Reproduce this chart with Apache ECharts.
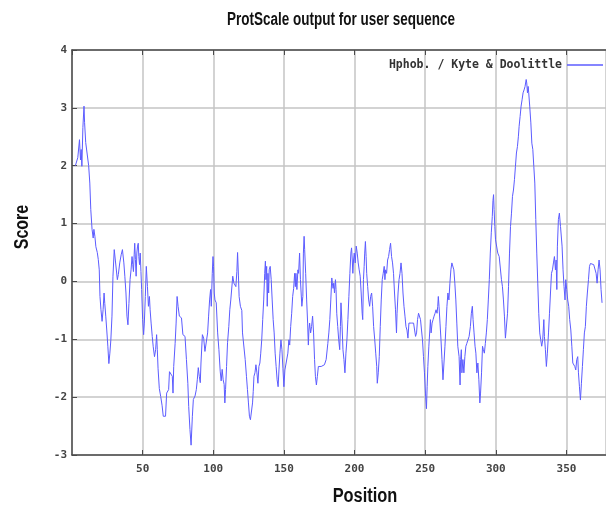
<!DOCTYPE html>
<html>
<head>
<meta charset="utf-8">
<script src="https://cdn.jsdelivr.net/npm/echarts@6/dist/echarts.min.js"></script>
<style>
  html, body { margin: 0; padding: 0; background: #fff; }
  #chart { width: 606px; height: 509px; }
</style>
</head>
<body>
<div id="chart"></div>
<script>
// Kyte & Doolittle hydrophobicity
const positions = [
  2.4, 3.4, 4.1, 5.3, 6.0, 6.5, 7.0, 7.7, 8.5, 8.9, 9.7, 10.9, 11.8, 12.6, 13.3, 14.2, 15.0, 15.5, 16.2, 16.9,
  17.9, 18.6, 19.3, 19.8, 20.5, 21.3, 22.0, 22.7, 23.2, 23.9, 24.6, 25.4, 26.1, 26.8, 27.5, 28.3, 29.0, 29.9, 31.2, 32.1,
  32.8, 33.8, 34.8, 35.7, 36.7, 37.4, 38.2, 38.9, 39.6, 40.3, 41.1, 41.8, 42.5, 43.0, 43.5, 44.0, 44.4, 44.9, 45.4, 45.9,
  46.4, 46.9, 47.3, 47.8, 48.3, 48.8, 49.3, 50.0, 50.7, 51.2, 51.9, 52.6, 53.4, 54.1, 54.8, 55.3, 56.0, 56.8, 57.5, 58.4,
  59.2, 59.9, 60.4, 60.9, 61.8, 62.8, 63.8, 64.6, 66.2, 67.0, 68.4, 69.0, 70.3, 71.0, 71.5, 72.0, 73.0, 73.7, 74.4, 75.1,
  76.0, 77.5, 78.5, 80.0, 81.0, 82.0, 82.6, 83.5, 84.3, 85.2, 85.9, 87.1, 88.0, 88.7, 89.4, 90.1, 90.8, 91.3, 92.3, 93.2,
  94.1, 95.1, 96.0, 96.7, 97.4, 98.1, 98.6, 99.3, 99.8, 100.2, 100.7, 101.2, 102.1, 103.1, 104.0, 104.9, 105.6, 106.3, 107.0, 107.7,
  108.2, 108.7, 109.4, 110.1, 111.0, 111.7, 112.4, 113.1, 113.8, 114.6, 115.3, 116.0, 116.7, 117.2, 117.8, 118.3, 119.2, 120.2, 120.7, 121.6,
  122.6, 123.5, 124.2, 124.9, 125.6, 126.3, 127.3, 127.8, 128.3, 128.8, 129.5, 130.2, 130.9, 131.6, 132.3, 133.0, 133.6, 134.3, 135.0, 135.7,
  136.4, 136.9, 137.3, 137.8, 138.2, 138.7, 139.2, 139.6, 140.3, 141.0, 141.7, 142.4, 143.1, 143.8, 144.5, 145.2, 145.9, 146.5, 147.2, 147.9,
  148.6, 149.3, 150.0, 150.7, 151.4, 152.1, 152.8, 153.5, 154.1, 154.8, 155.5, 156.2, 156.9, 157.6, 158.1, 158.5, 159.2, 159.9, 160.4, 161.1,
  161.7, 162.2, 162.7, 163.4, 163.8, 164.3, 164.7, 165.4, 166.1, 166.8, 167.3, 167.7, 168.2, 168.9, 169.6, 170.3, 171.0, 171.7, 172.3, 173.0,
  173.7, 174.4, 175.1, 176.4, 177.6, 178.7, 179.9, 181.1, 181.8, 182.5, 183.2, 183.9, 184.3, 184.8, 185.3, 185.8, 186.5, 186.9, 187.4, 188.1,
  188.8, 189.5, 190.0, 190.4, 191.1, 191.8, 192.5, 193.2, 193.9, 194.6, 195.3, 196.0, 196.7, 197.4, 197.9, 198.4, 198.8, 199.3, 199.8, 200.5,
  201.2, 201.9, 202.6, 203.3, 204.0, 204.7, 205.4, 205.8, 206.3, 206.8, 207.2, 207.7, 208.2, 208.6, 209.3, 210.0, 210.7, 211.4, 212.1, 212.8,
  213.5, 214.3, 215.0, 215.7, 216.1, 216.8, 217.5, 218.2, 218.9, 219.6, 220.3, 221.0, 221.5, 222.0, 222.7, 223.4, 224.1, 224.8, 225.5, 226.2,
  226.9, 227.6, 228.3, 229.0, 229.7, 230.1, 230.8, 231.5, 232.2, 232.9, 233.6, 234.3, 235.0, 235.7, 236.4, 237.1, 237.8, 238.5, 239.3, 240.2,
  241.1, 241.8, 242.5, 243.2, 243.9, 244.6, 245.3, 246.0, 246.7, 247.4, 248.1, 248.8, 249.5, 250.2, 250.9, 251.4, 251.9, 252.6, 253.3, 253.7,
  254.2, 254.9, 255.6, 256.3, 257.0, 257.7, 258.4, 258.9, 259.3, 259.8, 260.5, 261.2, 261.9, 262.6, 263.3, 264.0, 264.7, 265.4, 266.1, 266.8,
  267.5, 268.2, 268.9, 269.6, 270.3, 271.0, 271.7, 272.4, 273.1, 274.0, 274.7, 275.1, 275.6, 276.0, 276.7, 277.4, 278.1, 278.8, 279.5, 280.2,
  281.1, 282.0, 282.7, 283.4, 283.9, 284.6, 285.3, 285.9, 286.6, 287.3, 288.0, 288.7, 289.2, 289.9, 290.6, 291.2, 291.9, 292.6, 293.3, 294.0,
  294.7, 295.4, 296.1, 296.8, 297.5, 298.0, 298.4, 298.8, 299.3, 299.8, 300.5, 301.4, 302.4, 303.3, 304.0, 304.7, 305.4, 306.1, 306.8, 307.5,
  308.3, 309.0, 309.7, 310.4, 311.1, 311.8, 312.5, 313.2, 313.9, 314.6, 315.3, 316.0, 316.5, 317.2, 317.9, 318.6, 319.3, 320.0, 320.7, 321.5,
  321.9, 322.4, 322.9, 323.3, 324.0, 324.8, 325.5, 326.2, 326.9, 327.6, 328.3, 329.0, 329.7, 330.4, 331.1, 331.8, 332.5, 333.2, 334.0, 334.4,
  335.1, 335.8, 336.5, 337.3, 338.0, 338.7, 339.4, 340.1, 340.8, 341.5, 342.2, 342.7, 343.2, 343.6, 344.3, 345.0, 345.8, 346.5, 346.9, 347.6,
  348.3, 349.0, 349.5, 350.2, 350.9, 351.6, 352.3, 353.1, 353.8, 354.5, 355.2, 355.9, 356.6, 357.3, 358.0, 358.5, 359.2, 359.9, 360.6, 361.3,
  362.0, 362.7, 363.4, 364.1, 364.8, 365.6, 366.3, 367.0, 368.1, 369.3, 370.3, 371.0, 371.7, 372.4, 373.1, 373.8, 374.5, 375.2
];
const scores = [
  2.00, 2.00, 2.14, 2.45, 2.10, 2.28, 1.99, 2.66, 3.03, 2.75, 2.40, 2.37, 2.00, 1.70, 1.24, 0.90, 0.75, 0.90, 0.78, 0.60,
  0.50, 0.38, 0.20, -0.26, -0.49, -0.69, -0.49, -0.20, -0.38, -0.60, -0.84, -1.13, -1.42, -1.24, -1.01, -0.60, 0.09, 0.55, 0.55, 0.03,
  0.12, 0.32, 0.46, 0.55, 0.32, 0.09, -0.20, -0.60, -0.75, -0.38, 0.03, 0.20, 0.43, 0.29, 0.17, 0.46, 0.66, 0.38, 0.09, 0.49,
  0.61, 0.66, 0.43, 0.29, 0.49, 0.17, -0.14, -0.66, -0.92, -0.72, -0.26, 0.26, -0.09, -0.43, -0.26, -0.49, -0.72, -0.95, -1.13, -1.30,
  -1.18, -0.92, -1.18, -1.50, -1.85, -1.99, -2.15, -2.33, -2.33, -1.93, -1.87, -1.56, -1.58, -1.64, -1.93, -1.47, -1.07, -0.72, -0.26, -0.43,
  -0.60, -0.63, -0.92, -0.95, -1.35, -1.76, -2.16, -2.56, -2.83, -2.33, -2.04, -1.98, -1.87, -1.70, -1.49, -1.64, -1.75, -1.41, -0.92, -0.98,
  -1.21, -1.24, -0.89, -0.60, -0.32, -0.14, -0.43, 0.14, 0.43, 0.26, -0.20, -0.32, -0.37, -0.89, -1.18, -1.55, -1.72, -1.52, -1.70, -1.78,
  -2.10, -1.87, -1.47, -1.06, -0.78, -0.49, -0.32, -0.35, 0.09, -0.03, 0.00, -0.09, 0.17, 0.50, 0.11, -0.26, -0.43, -0.50, -0.89, -0.92,
  -1.35, -1.64, -1.87, -2.10, -2.33, -2.39, -2.39, -2.10, -1.90, -1.64, -1.58, -1.44, -1.58, -1.76, -1.47, -1.41, -1.24, -1.01, -0.66, -0.32,
  0.14, 0.35, 0.03, 0.26, -0.43, 0.14, -0.20, 0.20, 0.26, 0.03, -0.32, -0.66, -0.89, -1.24, -1.47, -1.70, -1.82, -1.53, -1.24, -1.01,
  -1.18, -1.50, -1.82, -1.53, -1.50, -1.53, -1.24, -1.01, -1.10, -0.78, -0.55, -0.26, -0.12, 0.14, -0.09, 0.14, -0.14, 0.20, 0.14, 0.49,
  0.03, -0.20, -0.43, -0.26, 0.49, 0.78, 0.55, 0.14, -0.32, -0.72, -1.10, -0.84, -0.72, -0.89, -0.78, -0.60, -0.89, -1.35, -1.64, -1.79,
  -1.64, -1.47, -1.44, -1.47, -1.44, -1.44, -1.35, -1.07, -0.89, -0.66, -0.32, 0.06, -0.03, -0.12, -0.03, -0.20, 0.03, -0.14, -0.55, -0.78,
  -1.01, -1.18, -0.78, -0.37, -0.72, -1.18, -1.35, -1.58, -1.24, -1.01, -0.66, -0.26, 0.14, 0.49, 0.58, 0.37, 0.14, 0.37, 0.49, 0.32,
  0.61, 0.49, 0.32, 0.20, 0.09, -0.20, -0.55, -0.66, 0.03, 0.26, 0.49, 0.69, 0.43, 0.14, -0.09, -0.32, -0.43, -0.26, -0.20, -0.43,
  -0.78, -1.01, -1.24, -1.47, -1.76, -1.58, -1.30, -0.78, -0.32, 0.03, 0.14, 0.26, 0.03, 0.20, 0.14, 0.37, 0.43, 0.55, 0.66, 0.43,
  0.32, 0.14, -0.20, -0.49, -0.89, -0.55, -0.20, 0.03, 0.14, 0.32, 0.14, -0.20, -0.43, -0.60, -0.78, -0.84, -0.98, -0.72, -0.69, -0.72,
  -0.69, -0.72, -0.84, -0.95, -0.89, -0.66, -0.55, -0.55, -0.66, -0.84, -1.01, -1.30, -1.58, -1.93, -2.20, -1.82, -1.47, -1.12, -0.84, -0.66,
  -0.89, -0.72, -0.66, -0.60, -0.55, -0.49, -0.55, -0.43, -0.26, -0.43, -0.72, -1.01, -1.35, -1.70, -1.41, -1.12, -0.78, -0.43, -0.20, -0.32,
  -0.03, 0.20, 0.32, 0.33, 0.20, -0.03, -0.32, -0.72, -1.12, -1.30, -1.79, -1.35, -1.18, -1.58, -1.35, -1.58, -1.30, -1.12, -1.07, -1.07,
  -0.95, -0.78, -0.55, -0.43, -0.66, -0.89, -1.12, -1.24, -1.58, -1.41, -1.70, -2.10, -1.93, -1.58, -1.12, -1.18, -1.24, -1.07, -0.89, -0.66,
  -0.32, 0.03, 0.49, 0.84, 1.12, 1.40, 1.50, 1.24, 0.95, 0.72, 0.72, 0.49, 0.43, 0.43, 0.03, -0.09, -0.32, -0.60, -0.98, -0.95,
  -0.55, -0.09, 0.49, 0.95, 1.18, 1.47, 1.58, 1.76, 1.99, 2.22, 2.33, 2.51, 2.68, 2.85, 3.03, 3.14, 3.26, 3.31, 3.37, 3.49,
  3.43, 3.26, 3.37, 3.26, 3.03, 2.74, 2.39, 2.28, 1.99, 1.70, 1.07, 0.49, -0.03, -0.55, -0.89, -1.01, -1.12, -1.01, -0.66, -0.95,
  -1.18, -1.47, -1.24, -0.89, -0.55, -0.20, 0.14, 0.20, 0.32, 0.43, 0.20, 0.37, -0.14, 0.61, 1.07, 1.18, 0.95, 0.95, 0.61, 0.20,
  -0.09, -0.32, 0.03, -0.14, -0.32, -0.43, -0.66, -0.84, -1.12, -1.41, -1.44, -1.47, -1.53, -1.35, -1.30, -1.58, -1.82, -2.05, -1.76, -1.47,
  -1.18, -0.89, -0.78, -0.43, -0.20, 0.03, 0.26, 0.31, 0.31, 0.29, 0.31, 0.14, -0.03, 0.20, 0.37, 0.20, -0.14, -0.37
];
const xTicks = { min: 0, max: 378, step: 50 };
const yTicks = { min: -3, max: 4, step: 1 };
const seriesName = 'Hphob. / Kyte & Doolittle';

const chart = echarts.init(document.getElementById('chart'));

const mono = "'DejaVu Sans Mono', monospace";
const sans = "'Liberation Sans', Arial, sans-serif";
const frame = '#4a4a4a';
const gridGrey = '#c4c4c4';

// condensed bold labels (the original uses a narrow Arial)
const label = (text, x, y, size, scaleX, rotation) => ({
  type: 'text',
  x, y, scaleX, rotation: rotation || 0,
  style: {
    text, fontFamily: sans, fontSize: size, fontWeight: 'bold', fill: '#111',
    align: 'center', verticalAlign: 'middle'
  }
});

chart.setOption({
  animation: false,
  backgroundColor: '#fff',
  graphic: [
    label('ProtScale output for user sequence', 341, 20, 18, 0.75),
    label('Position', 365, 496, 20, 0.82),
    label('Score', 22, 227, 20, 0.8, Math.PI / 2)
  ],
  legend: {
    data: [seriesName],
    top: 54,
    right: -2,
    align: 'right',
    icon: 'rect',
    itemWidth: 36,
    itemHeight: 1.5,
    itemGap: 4,
    textStyle: { fontFamily: mono, fontSize: 11.5, fontWeight: 'bold', color: '#333' }
  },
  grid: { left: 72, right: -3, top: 50, bottom: 54 },
  xAxis: [
    {
      type: 'value',
      position: 'bottom',
      min: xTicks.min,
      max: xTicks.max,
      interval: xTicks.step,
      axisLine: { onZero: false, lineStyle: { color: frame, width: 1.5 } },
      axisTick: { inside: true, length: 5, lineStyle: { color: frame } },
      axisLabel: {
        showMinLabel: false,
        showMaxLabel: false,
        margin: 9,
        fontFamily: mono,
        fontSize: 11,
        fontWeight: 'bold',
        color: '#444'
      },
      splitLine: { show: true, lineStyle: { color: gridGrey, width: 1.5 } }
    },
    {
      type: 'value',
      position: 'top',
      min: xTicks.min,
      max: xTicks.max,
      interval: xTicks.step,
      axisLine: { onZero: false, lineStyle: { color: frame, width: 1.5 } },
      axisTick: { inside: true, length: 5, lineStyle: { color: frame } },
      axisLabel: { show: false },
      splitLine: { show: false }
    }
  ],
  yAxis: {
    type: 'value',
    min: yTicks.min,
    max: yTicks.max,
    interval: yTicks.step,
    axisLine: { show: true, onZero: false, lineStyle: { color: frame, width: 1.5 } },
    axisTick: { show: true, inside: true, length: 5, lineStyle: { color: frame } },
    axisLabel: { margin: 5, fontFamily: mono, fontSize: 11, fontWeight: 'bold', color: '#444' },
    splitLine: { show: true, lineStyle: { color: gridGrey, width: 1.5 } }
  },
  series: [
    {
      name: seriesName,
      type: 'line',
      xAxisIndex: 0,
      showSymbol: false,
      symbol: 'none',
      data: positions.map((p, i) => [p, scores[i]]),
      lineStyle: { color: '#5c5cff', width: 1 },
      itemStyle: { color: '#5c5cff' }
    }
  ]
});
</script>
</body>
</html>
